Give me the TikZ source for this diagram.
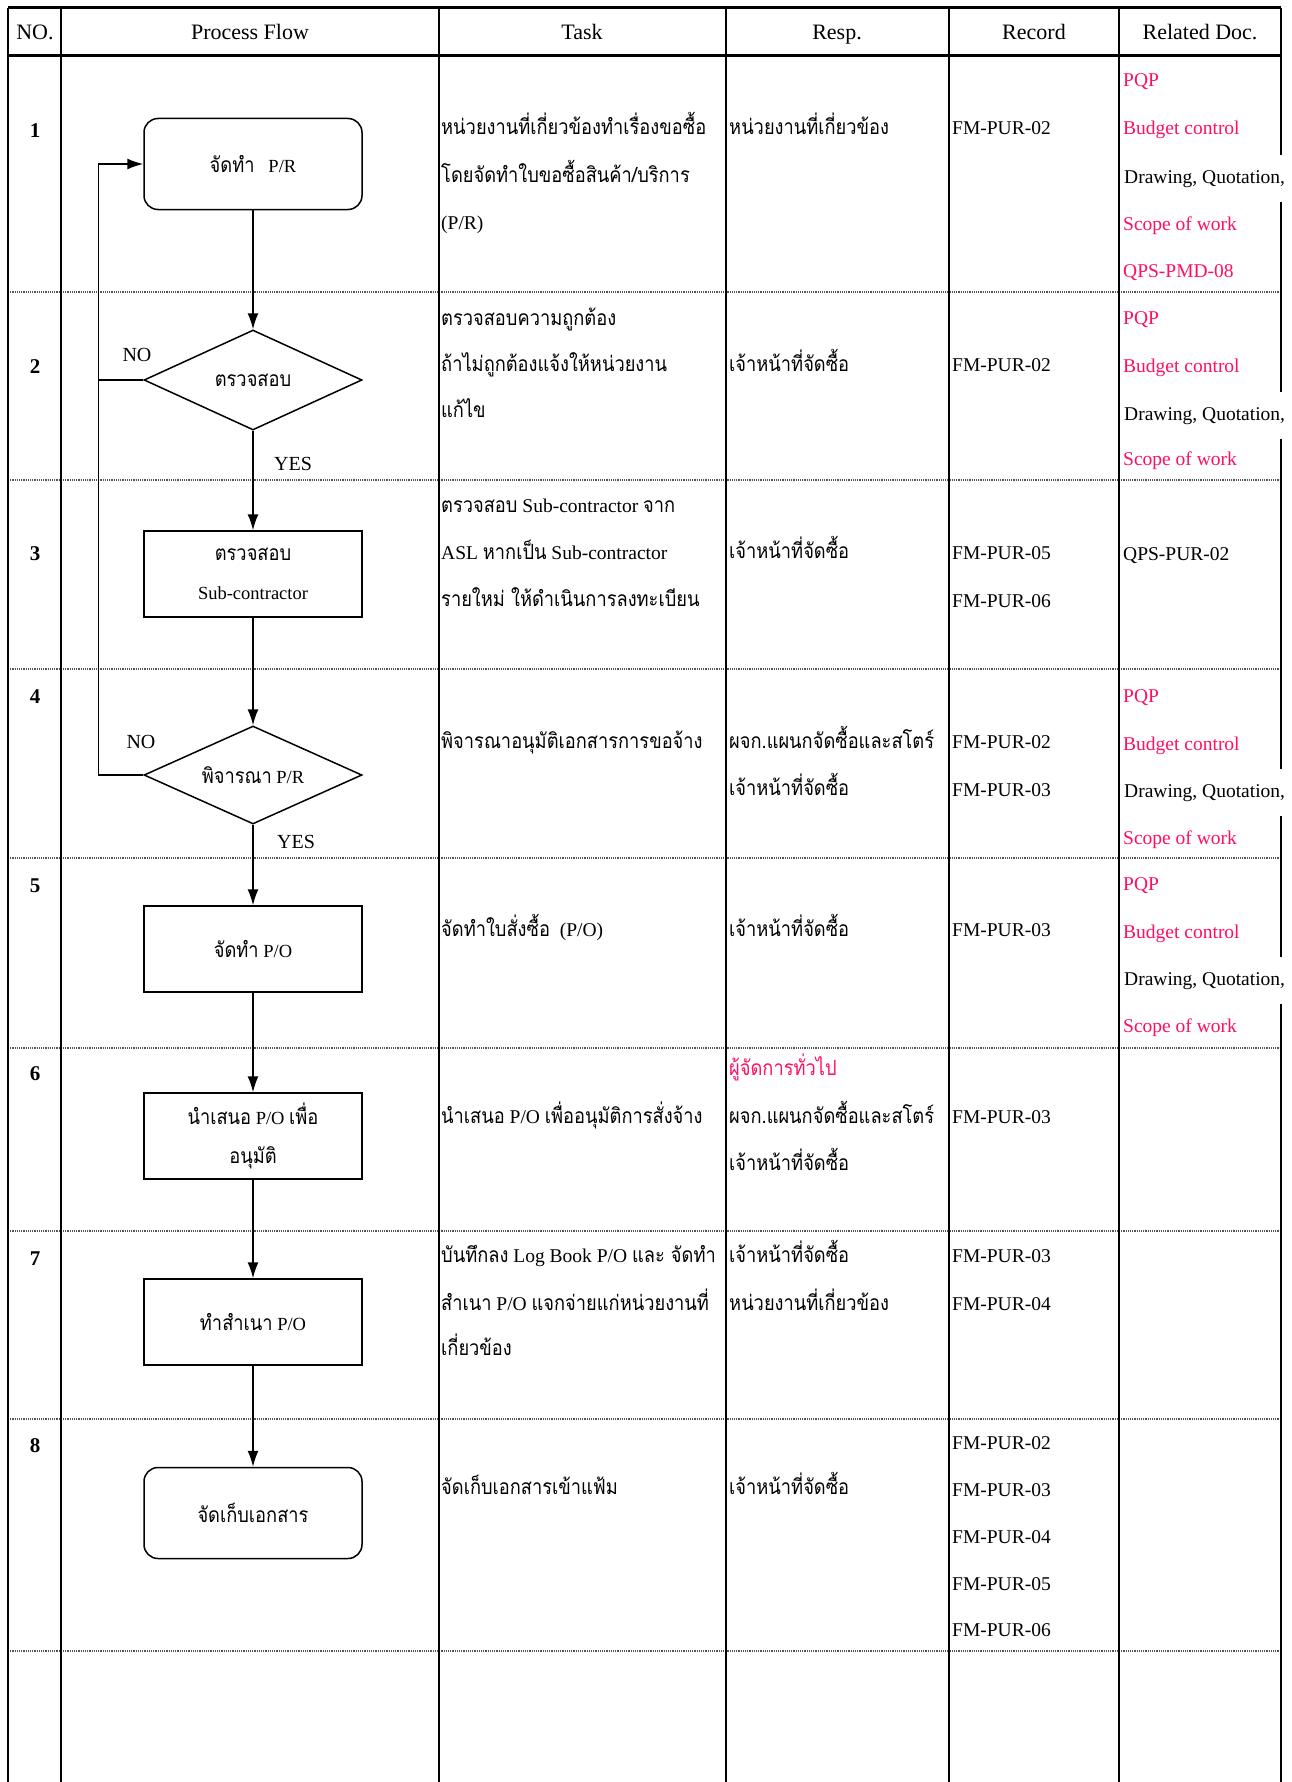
\documentclass[tikz,border=0pt]{standalone}
\usepackage{fontspec}
\setmainfont{Liberation Serif}
\newfontfamily\thaifont[Script=Thai, FakeStretch=0.87]{Loma}
\usepackage{xcolor}
\usepackage{tikz}
\usetikzlibrary{arrows.meta, positioning, shapes.geometric}
\definecolor{docpink}{HTML}{FF0F64}
\definecolor{linegray}{HTML}{555555}
\newcommand{\thtxt}[1]{{\thaifont\fontsize{21}{25}\selectfont #1}}

\begin{document}
\begin{tikzpicture}[
    x=1pt, y=-1pt,
    font=\fontsize{19.5}{23}\selectfont,
    cell/.style={anchor=base west, inner sep=0pt},
    doc/.style={cell, text=docpink},
    blank/.style={cell, fill=white, inner xsep=1pt, minimum height=47pt},
    num/.style={anchor=base, inner sep=0pt, font=\fontsize{21}{25}\selectfont\bfseries},
    head/.style={anchor=base, inner sep=0pt, font=\fontsize{22}{26}\selectfont},
    flowbox/.style={rectangle, draw, line width=1.5pt, minimum width=218pt,
                    minimum height=86pt, align=center, font=\fontsize{18.5}{39}\selectfont},
    term/.style={flowbox, rounded corners=14pt, minimum height=91pt},
    decision/.style={diamond, draw, line width=1.5pt, minimum width=218pt, aspect=2.2,
                     minimum height=100pt, inner sep=0pt, font=\fontsize{18.5}{22}\selectfont},
    arrow/.style={-{Latex[length=16pt, width=11pt]}, line width=1.5pt},
    flowlabel/.style={inner sep=0pt, font=\fontsize{20}{24}\selectfont},
    rowline/.style={draw=linegray, line width=1.2pt, densely dotted},
    colline/.style={line width=2pt}
  ]
    \useasboundingbox (0,0) rectangle (1291,1782);

    % table frame
    \draw[line width=3pt] (8,8) -- (1281,8);
    \draw[line width=3pt] (8,56) -- (1281,56);
    \draw[rowline] (8,292) -- (1281,292);
    \draw[rowline] (8,480) -- (1281,480);
    \draw[rowline] (8,669) -- (1281,669);
    \draw[rowline] (8,858) -- (1281,858);
    \draw[rowline] (8,1048) -- (1281,1048);
    \draw[rowline] (8,1231) -- (1281,1231);
    \draw[rowline] (8,1419) -- (1281,1419);
    \draw[rowline] (8,1651) -- (1281,1651);
    \draw[colline] (8,8) -- (8,1782);
    \draw[colline] (61,8) -- (61,1782);
    \draw[colline] (439,8) -- (439,1782);
    \draw[colline] (726,8) -- (726,1782);
    \draw[colline] (949,8) -- (949,1782);
    \draw[colline] (1119,8) -- (1119,1782);
    \draw[colline] (1281,8) -- (1281,1782);

    \node[head] (hno)   at (35,40)   {NO.};
    \node[head] (hflow) at (250,40)  {Process Flow};
    \node[head] (htask) at (582,40)  {Task};
    \node[head] (hresp) at (837,40)  {Resp.};
    \node[head] (hrec)  at (1034,40) {Record};
    \node[head] (hdoc)  at (1200,40) {Related Doc.};

    \node[num] (n1) at (35,137)  {1};
    \node[num] (n2) at (35,373)  {2};
    \node[num] (n3) at (35,560)  {3};
    \node[num] (n4) at (35,703)  {4};
    \node[num] (n5) at (35,892)  {5};
    \node[num] (n6) at (35,1080) {6};
    \node[num] (n7) at (35,1265) {7};
    \node[num] (n8) at (35,1452) {8};

    % process flow
    \node[term]     (prep)    at (253,164)  {\thtxt{จัดทำ}\ \ \ P/R};
    \node[decision] (check)   at (253,380)  {\thtxt{ตรวจสอบ}};
    \node[flowbox]  (subcon)  at (253,574)  {\thtxt{ตรวจสอบ}\\Sub-contractor};
    \node[decision, minimum height=98pt] (review) at (253,775) {\thtxt{พิจารณา} P/R};
    \node[flowbox]  (makepo)  at (253,949)  {\thtxt{จัดทำ} P/O};
    \node[flowbox]  (propose) at (253,1136) {\thtxt{นำเสนอ} P/O \thtxt{เพื่อ}\\\thtxt{อนุมัติ}};
    \node[flowbox]  (copypo)  at (253,1322) {\thtxt{ทำสำเนา} P/O};
    \node[term]     (filing)  at (253,1513) {\thtxt{จัดเก็บเอกสาร}};

    \draw[arrow] (prep.south) -- (check.north);
    \draw[arrow] (check.south) -- (subcon.north);
    \draw[arrow] (subcon.south) -- (review.north);
    \draw[arrow] (review.south) -- (makepo.north);
    \draw[arrow] (makepo.south) -- (propose.north);
    \draw[arrow] (propose.south) -- (copypo.north);
    \draw[arrow] (copypo.south) -- (filing.north);
    \draw[arrow] (review.west) -- ++(-45,0) |- (prep.west);
    \draw[line width=1.5pt] (check.west) -- ++(-44,0);

    \node[flowlabel] (no1)  at (137,355) {NO};
    \node[flowlabel] (yes1) at (293,464) {YES};
    \node[flowlabel] (no2)  at (141,742) {NO};
    \node[flowlabel] (yes2) at (296,842) {YES};

    % task
    \node[cell] (t1a) at (441,135)  {\thtxt{หน่วยงานที่เกี่ยวข้องทำเรื่องขอซื้อ}};
    \node[cell] (t1b) at (441,182)  {\thtxt{โดยจัดทำใบขอซื้อสินค้า/บริการ}};
    \node[cell] (t1c) at (441,229)  {(P/R)};
    \node[cell] (t2a) at (441,325)  {\thtxt{ตรวจสอบความถูกต้อง}};
    \node[cell] (t2b) at (441,371)  {\thtxt{ถ้าไม่ถูกต้องแจ้งให้หน่วยงาน}};
    \node[cell] (t2c) at (441,417)  {\thtxt{แก้ไข}};
    \node[cell] (t3a) at (441,512)  {\thtxt{ตรวจสอบ} Sub-contractor \thtxt{จาก}};
    \node[cell] (t3b) at (441,559)  {ASL \thtxt{หากเป็น} Sub-contractor};
    \node[cell] (t3c) at (441,606)  {\thtxt{รายใหม่ ให้ดำเนินการลงทะเบียน}};
    \node[cell] (t4)  at (441,748)  {\thtxt{พิจารณาอนุมัติเอกสารการขอจ้าง}};
    \node[cell] (t5)  at (441,936)  {\thtxt{จัดทำใบสั่งซื้อ}\ \ (P/O)};
    \node[cell] (t6)  at (441,1123) {\thtxt{นำเสนอ} P/O \thtxt{เพื่ออนุมัติการสั่งจ้าง}};
    \node[cell] (t7a) at (441,1262) {\thtxt{บันทึกลง} Log Book P/O \thtxt{และ จัดทำ}};
    \node[cell] (t7b) at (441,1310) {\thtxt{สำเนา} P/O \thtxt{แจกจ่ายแก่หน่วยงานที่}};
    \node[cell] (t7c) at (441,1355) {\thtxt{เกี่ยวข้อง}};
    \node[cell] (t8)  at (441,1494) {\thtxt{จัดเก็บเอกสารเข้าแฟ้ม}};

    % resp.
    \node[cell] (r1)  at (729,135)  {\thtxt{หน่วยงานที่เกี่ยวข้อง}};
    \node[cell] (r2)  at (729,371)  {\thtxt{เจ้าหน้าที่จัดซื้อ}};
    \node[cell] (r3)  at (729,558)  {\thtxt{เจ้าหน้าที่จัดซื้อ}};
    \node[cell] (r4a) at (729,748)  {\thtxt{ผจก.แผนกจัดซื้อและสโตร์}};
    \node[cell] (r4b) at (729,795)  {\thtxt{เจ้าหน้าที่จัดซื้อ}};
    \node[cell] (r5)  at (729,936)  {\thtxt{เจ้าหน้าที่จัดซื้อ}};
    \node[doc]  (r6a) at (729,1075) {\thtxt{ผู้จัดการทั่วไป}};
    \node[cell] (r6b) at (729,1123) {\thtxt{ผจก.แผนกจัดซื้อและสโตร์}};
    \node[cell] (r6c) at (729,1170) {\thtxt{เจ้าหน้าที่จัดซื้อ}};
    \node[cell] (r7a) at (729,1262) {\thtxt{เจ้าหน้าที่จัดซื้อ}};
    \node[cell] (r7b) at (729,1310) {\thtxt{หน่วยงานที่เกี่ยวข้อง}};
    \node[cell] (r8)  at (729,1494) {\thtxt{เจ้าหน้าที่จัดซื้อ}};

    % record
    \node[cell] (c1)  at (952,135)  {FM-PUR-02};
    \node[cell] (c2)  at (952,371)  {FM-PUR-02};
    \node[cell] (c3a) at (952,559)  {FM-PUR-05};
    \node[cell] (c3b) at (952,607)  {FM-PUR-06};
    \node[cell] (c4a) at (952,748)  {FM-PUR-02};
    \node[cell] (c4b) at (952,796)  {FM-PUR-03};
    \node[cell] (c5)  at (952,936)  {FM-PUR-03};
    \node[cell] (c6)  at (952,1123) {FM-PUR-03};
    \node[cell] (c7a) at (952,1262) {FM-PUR-03};
    \node[cell] (c7b) at (952,1310) {FM-PUR-04};
    \node[cell] (c8a) at (952,1449) {FM-PUR-02};
    \node[cell] (c8b) at (952,1496) {FM-PUR-03};
    \node[cell] (c8c) at (952,1543) {FM-PUR-04};
    \node[cell] (c8d) at (952,1590) {FM-PUR-05};
    \node[cell] (c8e) at (952,1636) {FM-PUR-06};

    % related doc.
    \node[doc]   (d1a) at (1123,87)  {PQP};
    \node[doc]   (d1b) at (1123,135) {Budget control};
    \node[blank] (d1c) at (1123,183) {Drawing, Quotation,};
    \node[doc]   (d1d) at (1123,230) {Scope of work};
    \node[doc]   (d1e) at (1123,277) {QPS-PMD-08};
    \node[doc]   (d2a) at (1123,324) {PQP};
    \node[doc]   (d2b) at (1123,372) {Budget control};
    \node[blank] (d2c) at (1123,420) {Drawing, Quotation,};
    \node[doc]   (d2d) at (1123,465) {Scope of work};
    \node[cell]  (d3)  at (1123,560) {QPS-PUR-02};
    \node[doc]   (d4a) at (1123,702) {PQP};
    \node[doc]   (d4b) at (1123,750) {Budget control};
    \node[blank] (d4c) at (1123,797) {Drawing, Quotation,};
    \node[doc]   (d4d) at (1123,844) {Scope of work};
    \node[doc]   (d5a) at (1123,890) {PQP};
    \node[doc]   (d5b) at (1123,938) {Budget control};
    \node[blank] (d5c) at (1123,985) {Drawing, Quotation,};
    \node[doc]   (d5d) at (1123,1032) {Scope of work};
\end{tikzpicture}
\end{document}
